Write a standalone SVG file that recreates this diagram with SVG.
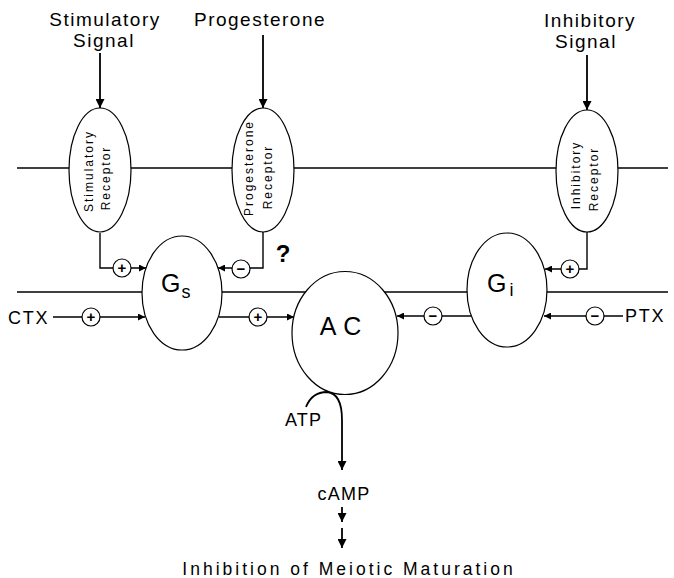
<svg xmlns="http://www.w3.org/2000/svg" width="674" height="578" viewBox="0 0 674 578">
  <defs>
    <marker id="arr" viewBox="0 0 10 10" refX="10" refY="5" markerWidth="7" markerHeight="7" markerUnits="userSpaceOnUse" orient="auto">
      <path d="M0,0 L10,5 L0,10 z" fill="#000"/>
    </marker>
    <marker id="arrBig" viewBox="0 0 10 10" refX="10" refY="5" markerWidth="9" markerHeight="9" markerUnits="userSpaceOnUse" orient="auto">
      <path d="M0,0 L10,5 L0,10 z" fill="#000"/>
    </marker>
  </defs>
  <style>
    .bg { fill: #fff; }
    .mem { stroke: #000; stroke-width: 1.3; fill: none; }
    .shape { fill: #fff; stroke: #000; stroke-width: 1.2; }
    .link { stroke: #000; stroke-width: 1.4; fill: none; }
    .sig { stroke: #000; stroke-width: 1.8; fill: none; }
    .sign { fill: #fff; stroke: #000; stroke-width: 1.2; }
    .lbl { font-family: "Liberation Sans", Arial, sans-serif; fill: #000; }
    .title { font-size: 19px; letter-spacing: 1.5px; text-anchor: middle; }
    .rec { font-size: 12px; letter-spacing: 2px; text-anchor: middle; }
    .big { font-size: 25px; }
    .mid { font-size: 18px; letter-spacing: 1.8px; }
    .low { font-size: 18px; letter-spacing: 1.2px; }
    .op { font-size: 15px; font-weight: bold; text-anchor: middle; }
  </style>
  <rect class="bg" x="0" y="0" width="674" height="578"/>

  <!-- membrane lines -->
  <g id="membrane">
    <line class="mem" x1="17" y1="168" x2="668" y2="168"/>
    <line class="mem" x1="17" y1="292" x2="668" y2="292"/>
  </g>

  <!-- connectors -->
  <g id="connectors">
    <path class="sig" d="M100,53 V108" marker-end="url(#arrBig)"/>
    <path class="sig" d="M263,35 V108" marker-end="url(#arrBig)"/>
    <path class="sig" d="M587,55 V110" marker-end="url(#arrBig)"/>
    <path class="link" d="M100,233 V268 H146" marker-end="url(#arr)"/>
    <path class="link" d="M263,232 V268 H218" marker-end="url(#arr)"/>
    <path class="link" d="M53,317 H145" marker-end="url(#arr)"/>
    <path class="link" d="M219,317 H294" marker-end="url(#arr)"/>
    <path class="link" d="M471,316 H397" marker-end="url(#arr)"/>
    <path class="link" d="M623,316 H544" marker-end="url(#arr)"/>
    <path class="link" d="M587,232 V269 H545" marker-end="url(#arr)"/>
    <path class="sig" d="M306,407 C310,397 318,392 327,392 C338,393 342,405 342,420 V470" marker-end="url(#arrBig)"/>
    <path class="sig" d="M342,507 V522" marker-end="url(#arrBig)"/>
    <path class="sig" d="M342,528 V548" marker-end="url(#arrBig)"/>
  </g>

  <!-- regulatory signs on the connectors -->
  <g id="signs">
    <circle class="sign" cx="122" cy="268" r="9"/>
    <text class="lbl op" x="122" y="273">+</text>
    <circle class="sign" cx="241" cy="269" r="9"/>
    <text class="lbl op" x="241" y="274">−</text>
    <circle class="sign" cx="91" cy="317" r="9"/>
    <text class="lbl op" x="91" y="322">+</text>
    <circle class="sign" cx="258" cy="317" r="9"/>
    <text class="lbl op" x="258" y="322">+</text>
    <circle class="sign" cx="433" cy="316" r="9"/>
    <text class="lbl op" x="433" y="321">−</text>
    <circle class="sign" cx="595" cy="316" r="9"/>
    <text class="lbl op" x="595" y="321">−</text>
    <circle class="sign" cx="570" cy="269" r="9"/>
    <text class="lbl op" x="570" y="274">+</text>
  </g>

  <!-- signal labels -->
  <g id="stim-signal">
    <text class="lbl title" x="105" y="26">Stimulatory</text>
    <text class="lbl title" x="104" y="47">Signal</text>
  </g>
  <g id="prog-signal">
    <text class="lbl title" x="260" y="26">Progesterone</text>
  </g>
  <g id="inh-signal">
    <text class="lbl title" x="590" y="27">Inhibitory</text>
    <text class="lbl title" x="586" y="48">Signal</text>
  </g>

  <!-- receptors -->
  <g id="stim-receptor">
    <ellipse class="shape" cx="100" cy="170" rx="31" ry="62"/>
    <text class="lbl rec" transform="translate(93,171) rotate(-90)">Stimulatory</text>
    <text class="lbl rec" transform="translate(110,178) rotate(-90)">Receptor</text>
  </g>
  <g id="prog-receptor">
    <ellipse class="shape" cx="263" cy="170" rx="31" ry="62"/>
    <text class="lbl rec" transform="translate(253,168) rotate(-90)">Progesterone</text>
    <text class="lbl rec" transform="translate(272,177) rotate(-90)">Receptor</text>
  </g>
  <g id="inh-receptor">
    <ellipse class="shape" cx="587" cy="171" rx="31" ry="61"/>
    <text class="lbl rec" transform="translate(580,175) rotate(-90)">Inhibitory</text>
    <text class="lbl rec" transform="translate(598,179) rotate(-90)">Receptor</text>
  </g>

  <!-- G proteins and adenylate cyclase -->
  <g id="gs">
    <ellipse class="shape" cx="182" cy="293" rx="40" ry="57"/>
    <text class="lbl big" x="161" y="292">G<tspan font-size="18" dx="1" dy="6">s</tspan></text>
  </g>
  <g id="gi">
    <ellipse class="shape" cx="507" cy="290" rx="40" ry="57"/>
    <text class="lbl big" x="487" y="292">G<tspan font-size="18" dx="3" dy="4">i</tspan></text>
  </g>
  <g id="ac">
    <ellipse class="shape" cx="345" cy="333" rx="53" ry="61.5"/>
    <text class="lbl big" x="344" y="335" text-anchor="middle" letter-spacing="7">AC</text>
  </g>

  <!-- other labels -->
  <g id="question">
    <text class="lbl" x="283" y="262" font-size="24" font-weight="bold" text-anchor="middle">?</text>
  </g>
  <g id="ctx">
    <text class="lbl mid" x="8" y="324">CTX</text>
  </g>
  <g id="ptx">
    <text class="lbl mid" x="625" y="322">PTX</text>
  </g>
  <g id="atp">
    <text class="lbl low" x="285" y="426">ATP</text>
  </g>
  <g id="camp">
    <text class="lbl low" x="344" y="500" text-anchor="middle">cAMP</text>
  </g>
  <g id="outcome">
    <text class="lbl" x="349" y="575" font-size="17.5" text-anchor="middle" letter-spacing="3">Inhibition of Meiotic  Maturation</text>
  </g>
</svg>
